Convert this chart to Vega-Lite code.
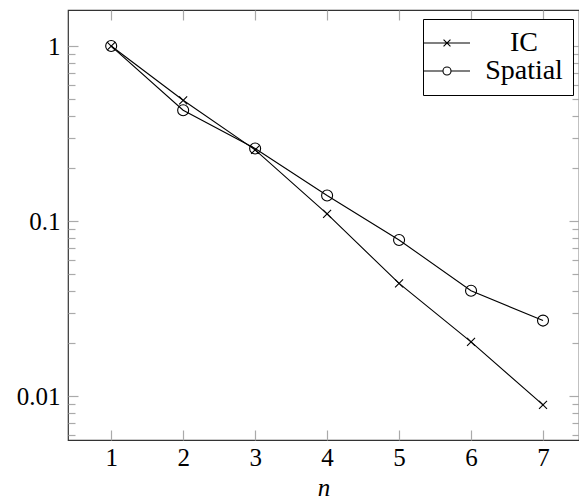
{
  "$schema": "https://vega.github.io/schema/vega-lite/v6.json",
  "width": 511,
  "height": 430,
  "autosize": {"type": "none"},
  "padding": {"left": 68, "top": 10, "right": 0, "bottom": 62},
  "config": {
    "view": {"stroke": "#333", "strokeWidth": 1.2},
    "font": "Liberation Serif",
    "axis": {
      "domain": false,
      "grid": false,
      "tickColor": "#aaa",
      "tickWidth": 1.2,
      "labelFont": "Liberation Serif",
      "labelFontSize": 25,
      "labelColor": "#000",
      "titleFont": "Liberation Serif",
      "titleColor": "#000"
    }
  },
  "data": {
    "values": [
      {"n": 1, "v": 1, "series": "IC"},
      {"n": 2, "v": 0.49, "series": "IC"},
      {"n": 3, "v": 0.255, "series": "IC"},
      {"n": 4, "v": 0.11, "series": "IC"},
      {"n": 5, "v": 0.044, "series": "IC"},
      {"n": 6, "v": 0.0204, "series": "IC"},
      {"n": 7, "v": 0.0089, "series": "IC"},
      {"n": 1, "v": 1, "series": "Spatial"},
      {"n": 2, "v": 0.43, "series": "Spatial"},
      {"n": 3, "v": 0.26, "series": "Spatial"},
      {"n": 4, "v": 0.14, "series": "Spatial"},
      {"n": 5, "v": 0.078, "series": "Spatial"},
      {"n": 6, "v": 0.04, "series": "Spatial"},
      {"n": 7, "v": 0.027, "series": "Spatial"}
    ]
  },
  "layer": [
    {
      "mark": {"type": "line", "color": "black", "strokeWidth": 1.1},
      "encoding": {
        "x": {"field": "n", "type": "quantitative", "scale": {"domain": [0.4, 7.5], "nice": false, "zero": false},
              "axis": {"orient": "bottom", "values": [1,2,3,4,5,6,7], "tickSize": -10, "labelPadding": 15, "title": "n", "titleFontStyle": "italic", "titleFontWeight": "normal", "titleFontSize": 25, "titlePadding": 5}},
        "y": {"field": "v", "type": "quantitative", "scale": {"type": "log", "domain": [0.00561, 1.607], "nice": false},
              "axis": {"orient": "left", "title": null,
                       "values": [0.006,0.007,0.008,0.009,0.01,0.02,0.03,0.04,0.05,0.06,0.07,0.08,0.09,0.1,0.2,0.3,0.4,0.5,0.6,0.7,0.8,0.9,1],
                       "labelExpr": "indexof([1,0.1,0.01], datum.value) >= 0 ? datum.value + '' : ''",
                       "tickSize": {"condition": {"test": "indexof([1,0.1,0.01], datum.value) >= 0", "value": -10}, "value": -7},
                       "labelPadding": 18}},
        "detail": {"field": "series", "type": "nominal"}
      }
    },
    {
      "mark": {"type": "point", "filled": false, "color": "black", "strokeWidth": 1.1, "opacity": 1},
      "encoding": {
        "x": {"field": "n", "type": "quantitative", "axis": null},
        "y": {"field": "v", "type": "quantitative", "axis": null},
        "shape": {"field": "series", "type": "nominal", "scale": {"domain": ["IC", "Spatial"], "range": ["M-1,-1L1,1M-1,1L1,-1", "circle"]}, "legend": null},
        "size": {"field": "series", "type": "nominal", "scale": {"domain": ["IC", "Spatial"], "range": [64, 121]}, "legend": null}
      }
    },
    {
      "mark": {"type": "point", "filled": false, "color": "black", "opacity": 0, "size": 10},
      "encoding": {
        "x": {"field": "n", "type": "quantitative", "axis": {"orient": "top", "values": [1,2,3,4,5,6,7], "tickSize": -10, "labels": false, "title": null}},
        "y": {"field": "v", "type": "quantitative",
              "axis": {"orient": "right", "title": null, "labels": false,
                       "values": [0.006,0.007,0.008,0.009,0.01,0.02,0.03,0.04,0.05,0.06,0.07,0.08,0.09,0.1,0.2,0.3,0.4,0.5,0.6,0.7,0.8,0.9,1],
                       "tickSize": {"condition": {"test": "indexof([1,0.1,0.01], datum.value) >= 0", "value": -10}, "value": -7}}},
        "shape": {"field": "series", "type": "nominal",
                  "scale": {"domain": ["IC", "Spatial"], "range": ["M-2,0H2M-0.3,-0.3L0.3,0.3M-0.3,0.3L0.3,-0.3", "M-2,0H-0.35M0.35,0H2M-0.35,0A0.35,0.35 0 1 0 0.35,0A0.35,0.35 0 1 0 -0.35,0"]},
                  "legend": {
                    "title": null, "orient": "none", "legendX": 355, "legendY": 9,
                    "strokeColor": "black", "fillColor": "white", "padding": 10, "cornerRadius": 0,
                    "symbolSize": 529, "symbolStrokeColor": "black", "symbolFillColor": "transparent", "symbolStrokeWidth": 1.1,
                    "labelFont": "Liberation Serif", "labelFontSize": 28, "labelColor": "black",
                    "labelAlign": "center", "labelOffset": 63, "rowPadding": 0,
                    "encode": {"symbols": {"update": {"opacity": {"value": 1}, "strokeOpacity": {"value": 1}}}}
                  }}
      }
    }
  ],
  "resolve": {"axis": {"x": "independent", "y": "independent"}, "scale": {"shape": "independent"}}
}
